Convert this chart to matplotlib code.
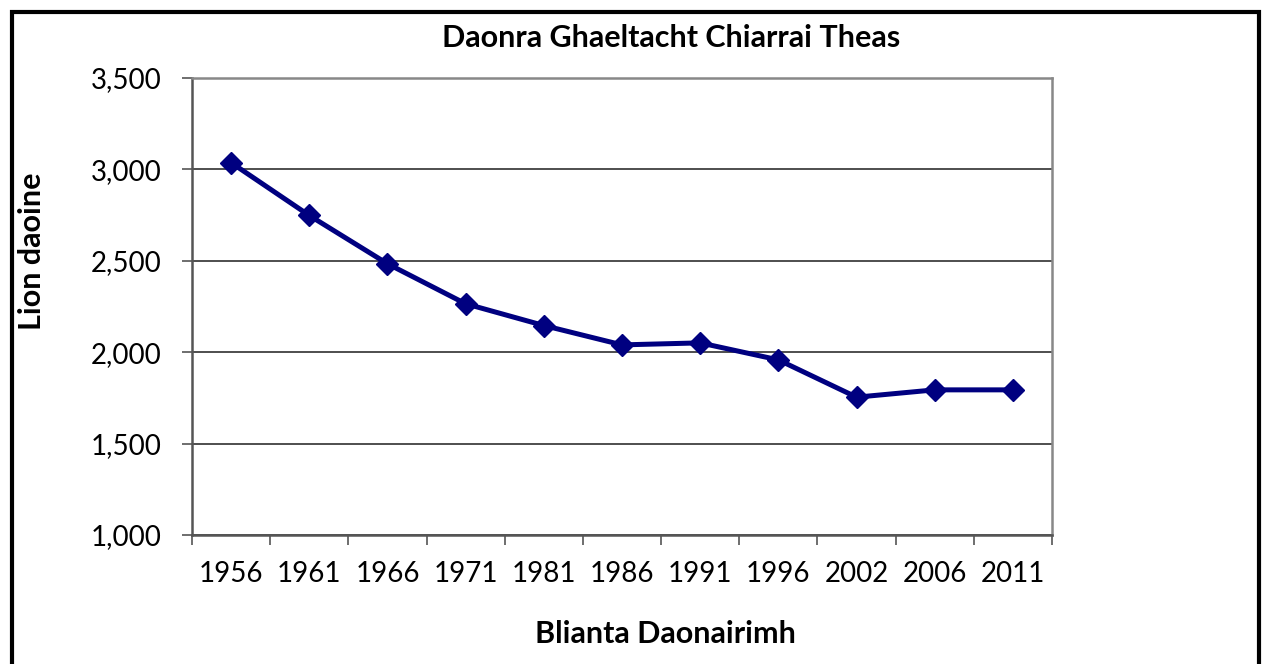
import matplotlib.pyplot as plt
import numpy as np
from matplotlib.patches import Rectangle
from matplotlib.ticker import FuncFormatter

# Daonra per bliain daonairimh
bliain = ['1956', '1961', '1966', '1971', '1981', '1986', '1991', '1996', '2002', '2006', '2011']
daonra = [3037, 2748, 2484, 2265, 2146, 2040, 2051, 1958, 1754, 1794, 1794]

plt.rcParams['font.family'] = ['Lato', 'DejaVu Sans']

fig = plt.figure(figsize=(12.66, 6.64), dpi=100)
ax = fig.add_axes([192 / 1266, 1 - 535 / 664, (1052 - 192) / 1266, (535 - 78) / 664])

x = np.arange(len(bliain))
ax.plot(x, daonra, color='#000080', linewidth=3.6, marker='D', markersize=11,
        markerfacecolor='#000080', markeredgecolor='#000080', zorder=3)

ax.set_xlim(-0.5, len(bliain) - 0.5)
ax.set_ylim(1000, 3500)
ax.set_yticks(np.arange(1000, 3501, 500))
ax.yaxis.set_major_formatter(FuncFormatter(lambda v, p: '{:,.0f}'.format(v)))
ax.grid(axis='y', color='#303030', linewidth=1.2, zorder=1)

# tic idir na catagóirí
ax.set_xticks(x)
ax.set_xticklabels(bliain)
ax.set_xticks(np.arange(-0.5, len(bliain)), minor=True)
ax.tick_params(axis='x', which='major', length=0, pad=19, labelsize=20)
ax.tick_params(axis='x', which='minor', length=7, width=1.2, color='#555555', direction='out')
ax.tick_params(axis='y', length=7, width=1.2, color='#555555', pad=15, labelsize=20)

for s in ['left', 'bottom']:
    ax.spines[s].set_color('#555555')
    ax.spines[s].set_linewidth(1.8)
for s in ['top', 'right']:
    ax.spines[s].set_color('#888888')
    ax.spines[s].set_linewidth(1.8)

fig.text(671 / 1266, 1 - 38 / 664, 'Daonra Ghaeltacht Chiarrai Theas', ha='center', va='center',
         fontsize=22, fontweight='bold')
fig.text(32 / 1266, 1 - 251 / 664, 'Lion daoine', ha='center', va='center', rotation=90,
         fontsize=22, fontweight='bold')
fig.text(665 / 1266, 1 - 634 / 664, 'Blianta Daonairimh', ha='center', va='center',
         fontsize=22, fontweight='bold')

# fráma timpeall na cairte
fig.patches.append(Rectangle((11.5 / 1266, -0.05), (1258.5 - 11.5) / 1266, 1 - 11.5 / 664 + 0.05,
                             transform=fig.transFigure, fill=False, edgecolor='black', linewidth=3))

fig.savefig('out.png', dpi=100)
